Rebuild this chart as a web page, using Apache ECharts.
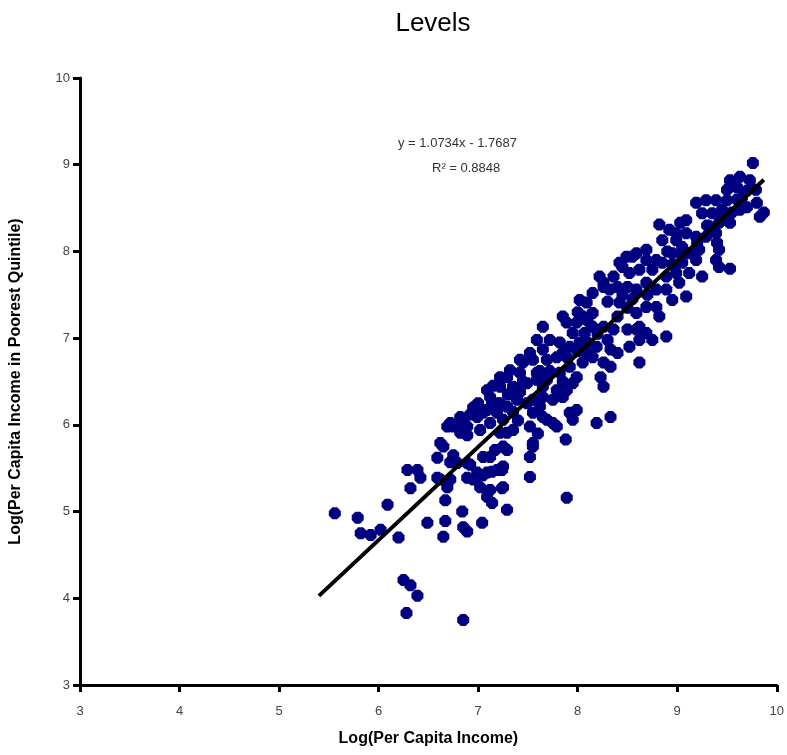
<!DOCTYPE html>
<html>
<head>
<meta charset="utf-8">
<script src="https://cdn.jsdelivr.net/npm/echarts@6/dist/echarts.min.js"></script>
<style>
  html, body { margin: 0; padding: 0; background: #fff; }
  #chart { width: 787px; height: 755px; }
</style>
</head>
<body>
<div id="chart"></div>
<script>
// log per capita income (x) vs log income of poorest quintile (y)
var points = [
    [5.56,4.98],[5.79,4.93],[6.09,5.08],[5.82,4.75],[5.92,4.73],[6.02,4.79],[6.20,4.70],
    [6.25,4.21],[6.32,4.15],[6.39,4.03],[6.28,3.83],[6.85,3.75],
    [6.49,4.87],[6.67,4.89],[6.65,4.71],[6.84,5.00],[6.85,4.82],[6.89,4.77],[7.04,4.87],
    [7.29,5.02],[7.14,5.10],[7.24,5.27],[6.67,5.13],[6.32,5.27],[6.42,5.39],[6.29,5.48],
    [6.39,5.48],[6.59,5.39],[6.72,5.37],[6.89,5.39],[6.99,5.40],[7.05,5.42],[7.14,5.46],
    [7.24,5.48],[7.09,5.17],[6.65,5.75],[6.59,5.62],[6.75,5.65],[6.72,5.57],[6.75,5.98],
    [6.85,6.02],[6.92,6.12],[6.99,6.09],[7.02,5.94],[6.89,5.88],[7.09,6.17],[7.14,6.25],
    [7.22,5.91],[7.25,5.75],[7.17,5.71],[7.05,5.63],[6.92,5.54],[6.99,5.45],[7.19,5.48],
    [7.25,5.52],[6.62,5.79],[6.79,5.56],[6.89,5.56],[7.12,5.63],[6.62,5.37],[6.69,5.28],
    [6.95,5.37],[7.09,5.45],[7.02,5.28],[7.12,5.25],[7.25,5.28],[7.52,5.40],[7.52,5.63],
    [7.55,5.75],[7.29,5.71],[7.89,5.16],[7.88,5.83],
    [6.69,5.98],[6.82,5.91],[7.19,6.14],[7.29,6.21],[7.39,6.29],[7.49,6.25],[7.55,6.14],
    [7.62,6.21],[7.52,5.98],[7.69,6.06],[7.79,5.98],[6.82,6.09],[6.72,6.02],[6.89,5.98],
    [7.12,6.02],[7.25,6.06],[7.35,5.94],[7.65,6.09],[7.55,5.79],[7.99,6.17],[8.19,6.02],
    [8.33,6.09],[7.95,6.06],[7.92,6.14],[7.85,6.32],[7.75,6.29],[7.65,6.32],[7.55,6.29],
    [7.19,6.25],[7.05,6.14],[7.29,6.55],[7.22,6.44],[7.09,6.40],[7.35,6.44],[7.49,6.48],
    [7.59,6.52],[7.69,6.52],[7.79,6.40],[7.42,6.60],[7.45,6.72],[7.55,6.75],[7.59,6.98],
    [7.72,6.98],[7.82,6.95],[7.65,6.87],[7.69,6.75],[7.79,6.78],[7.89,6.78],[7.92,6.67],
    [8.05,6.72],[7.99,6.55],[8.09,6.83],[8.19,6.90],[8.30,6.98],[8.36,7.10],[8.26,6.72],
    [8.23,6.55],[8.26,6.44],[8.33,6.67],[7.65,7.13],[7.89,7.18],[7.99,7.18],[8.05,7.25],
    [7.95,7.06],[8.07,7.06],[8.02,7.44],[8.15,7.52],[8.26,7.59],[8.30,7.42],[8.40,7.59],
    [7.52,6.83],[7.42,6.75],[7.32,6.63],[7.22,6.55],[7.12,6.32],[7.22,6.25],[7.59,6.60],
    [7.65,6.44],[7.95,6.48],[7.89,6.40],[7.75,6.02],[7.29,5.91],[8.50,7.10],[8.62,7.13],
    [8.62,6.98],[8.52,6.90],[8.40,6.83],[8.62,6.72],[7.85,6.83],
    [7.85,7.25],[8.26,7.64],[8.36,7.71],[8.45,7.82],[8.55,7.94],[8.69,7.90],[8.75,7.79],
    [8.82,8.31],[8.92,8.25],[9.03,8.33],[8.85,8.13],[8.99,8.13],[9.05,8.05],[8.95,7.98],
    [8.59,7.98],[8.49,7.94],[8.42,7.87],[8.52,7.75],[8.62,7.79],[8.22,7.71],[8.32,7.56],
    [8.50,7.59],[8.59,7.56],[8.69,7.64],[8.85,7.87],[8.89,7.71],[8.99,7.75],[8.79,7.56],
    [8.89,7.56],[9.02,7.64],[9.09,7.48],[8.95,7.44],[8.79,7.36],[8.82,7.25],[8.69,7.36],
    [8.59,7.29],[8.42,7.41],[8.09,7.41],[8.15,7.29],[8.15,7.13],[8.26,7.13],[8.59,7.10],
    [8.69,7.06],[8.75,6.98],[8.33,6.87],[8.02,6.95],[7.92,6.90],[8.15,6.78],[8.89,7.02],
    [9.76,9.02],[9.53,8.82],[9.63,8.86],[9.73,8.82],[9.50,8.71],[9.60,8.74],[9.80,8.56],
    [9.83,8.40],[9.19,8.56],[9.29,8.59],[9.39,8.59],[9.50,8.59],[9.25,8.44],[9.35,8.44],
    [9.45,8.48],[9.63,8.48],[9.70,8.51],[9.09,8.36],[9.32,8.29],[9.42,8.33],[9.53,8.33],
    [8.99,8.21],[9.09,8.21],[9.19,8.17],[9.29,8.17],[9.39,8.21],[8.69,8.02],[8.79,7.90],
    [9.12,7.98],[9.22,8.02],[9.42,8.02],[9.39,7.90],[9.42,7.82],[9.05,7.87],[9.19,7.90],
    [9.12,7.75],[9.25,7.71],[9.87,8.45],[9.53,7.80],[9.79,8.71],
    // denser core along the line
    [7.35,6.15],[7.42,6.38],[7.30,6.35],[7.62,6.62],[7.72,6.62],[7.82,6.60],[7.85,6.50],
    [8.00,6.85],[8.10,6.95],[8.20,7.05],[8.40,7.25],[8.50,7.35],[8.45,7.50],[8.55,7.45],
    [8.70,7.50],[8.95,7.85],[9.05,7.95],[9.30,8.30],[9.45,8.40],[9.60,8.60],[9.70,8.70],
    [9.40,8.10],[9.55,8.45],[9.65,8.62],[9.20,8.10],[8.90,8.00],[8.00,7.30],[8.10,7.20],
    [7.45,6.50],[7.15,6.45],[7.00,6.25],[6.95,6.20],[7.40,6.05],[7.60,5.90]
];

// trend line y = 1.0734x - 1.7687
var slope = 1.0734, intercept = -1.7687;
var trendX = [5.4, 9.87];
var trendLine = trendX.map(function (x) { return [x, slope * x + intercept]; });

var xTicks = [3, 4, 5, 6, 7, 8, 9, 10];
var yTicks = [3, 4, 5, 6, 7, 8, 9, 10];

var myChart = echarts.init(document.getElementById('chart'));

var axisCommon = {
    type: 'value',
    min: 3,
    max: 10,
    interval: 1,
    nameLocation: 'middle',
    nameTextStyle: { fontFamily: 'Arial, Liberation Sans', fontSize: 16, fontWeight: 'bold', color: '#000' },
    axisLine: { show: true, lineStyle: { color: '#000', width: 3 } },
    axisTick: { show: true, inside: false, length: 7, lineStyle: { color: '#000', width: 3 } },
    splitLine: { show: false }
};

var option = {
    backgroundColor: '#fff',
    animation: false,
    title: {
        text: 'Levels',
        left: 428,
        top: 6,
        textAlign: 'center',
        textStyle: { fontFamily: 'Arial, Liberation Sans', fontSize: 26, fontWeight: 'normal', color: '#000' }
    },
    grid: { left: 80, right: 10, top: 78, bottom: 70 },
    xAxis: Object.assign({}, axisCommon, {
        name: 'Log(Per Capita Income)',
        nameGap: 46,
        axisLabel: {
            margin: 20, fontFamily: 'Arial, Liberation Sans', fontSize: 13, color: '#444',
            formatter: function (v) { return xTicks.indexOf(v) >= 0 ? v : ''; }
        }
    }),
    yAxis: Object.assign({}, axisCommon, {
        name: 'Log(Per Capita Income in Poorest Quintile)',
        nameGap: 56,
        axisLabel: {
            margin: 10, fontFamily: 'Arial, Liberation Sans', fontSize: 13, color: '#444',
            formatter: function (v) { return yTicks.indexOf(v) >= 0 ? v : ''; }
        }
    }),
    graphic: [
        { type: 'text', left: 398, top: 137, style: { text: 'y = 1.0734x - 1.7687', font: '13px Arial, Liberation Sans', fill: '#333' } },
        { type: 'text', left: 432, top: 162, style: { text: 'R² = 0.8848', font: '13px Arial, Liberation Sans', fill: '#333' } }
    ],
    series: [
        {
            name: 'countries',
            type: 'scatter',
            data: points,
            symbol: 'path://M3,0 L7,0 L10,3 L10,7 L7,10 L3,10 L0,7 L0,3 Z',
            symbolSize: 12,
            itemStyle: { color: '#000080', opacity: 1 }
        },
        {
            name: 'trend',
            type: 'line',
            data: trendLine,
            showSymbol: false,
            symbol: 'none',
            lineStyle: { color: '#000', width: 4 },
            z: 5
        }
    ]
};
myChart.setOption(option);
</script>
</body>
</html>
